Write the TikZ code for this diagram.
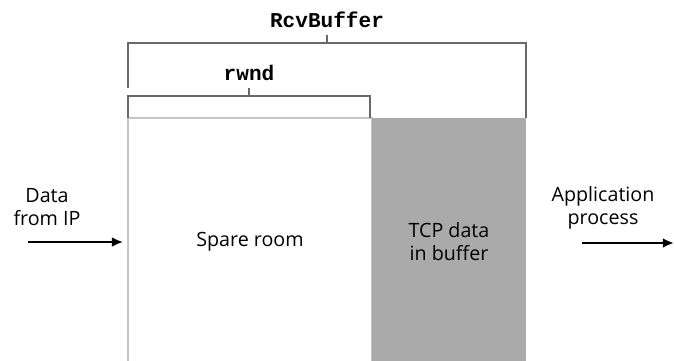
\documentclass[tikz,border=0pt]{standalone}
\usepackage{fontspec}
\setsansfont{Open Sans}
\setmonofont{Liberation Mono}
\usetikzlibrary{positioning}
\usetikzlibrary{arrows.meta}
\definecolor{buffergray}{RGB}{170,170,170}
\definecolor{linegray}{RGB}{105,105,105}

\begin{document}
\begin{tikzpicture}[x=0.025cm, y=-0.025cm,
    lbl/.style={font=\sffamily\fontsize{14}{16.5}\selectfont, align=center},
    var/.style={font=\ttfamily\bfseries\fontsize{15}{15}\selectfont, anchor=south, inner xsep=1pt, inner ysep=5pt},
    brace/.style={draw=linegray, line width=0.8pt},
    flow/.style={-{Latex[length=8pt,width=7pt]}, line width=2.1pt}]
    \useasboundingbox (0,0) rectangle (674,360);

    % receive buffer
    \node[draw=gray!45, line width=0.8pt, minimum width=6.1cm, minimum height=6.2cm, inner sep=0pt, lbl] (spare) at (250,242) {Spare room};
    \node[fill=buffergray, minimum width=3.85cm, minimum height=6.2cm, inner sep=0pt, lbl] (tcp) at (449,242) {TCP data\\in buffer};

    % brackets
    \node[var] (rcv) at (327,35) {RcvBuffer};
    \coordinate (rcvtip) at (327,43);
    \draw[brace] (128,88) -- (128,43) -- (526,43) -- (526,118);
    \draw[brace] (rcv) -- (rcvtip);

    \node[var] (rwnd) at (249,88) {rwnd};
    \coordinate (rwndtip) at (249,96);
    \draw[brace] (128,118) -- (128,96) -- (370,96) -- (370,118);
    \draw[brace] (rwnd) -- (rwndtip);

    % in and out
    \node[lbl] (ip) at (47,207) {Data\\from IP};
    \coordinate (ipin) at (28,242);
    \draw[flow, shorten >=3pt] (ipin) -- (ipin -| spare.west);

    \node[lbl] (app) at (603,208) {Application\\process};
    \coordinate (appin) at (582,243);
    \coordinate (appout) at (674,243);
    \draw[flow] (appin) -- (appout);
\end{tikzpicture}
\end{document}
